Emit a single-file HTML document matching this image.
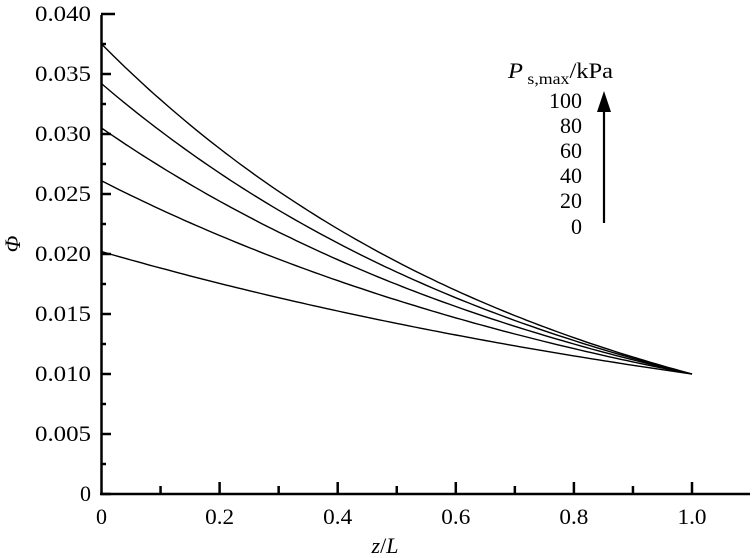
<!DOCTYPE html>
<html><head><meta charset="utf-8"><style>
html,body{margin:0;padding:0;background:#fff;}
svg{display:block;font-family:"Liberation Serif","Times New Roman",serif;}
</style></head><body>
<svg width="755" height="558" viewBox="0 0 755 558">
<g stroke="#000" stroke-width="2.5" fill="none">
<line x1="101.5" y1="15" x2="101.5" y2="495"/>
<line x1="100" y1="494" x2="750" y2="494"/>
</g>
<g id="yt" stroke="#000" stroke-width="2.5"></g>
<g id="xt" stroke="#000" stroke-width="2.5"></g>
<g id="curves" stroke="#000" stroke-width="1.4" fill="none"></g>
<g font-size="22" text-anchor="end" id="yl"></g>
<g font-size="22" text-anchor="middle" id="xl"></g>
<text x="20" y="244" font-size="22" font-style="italic" text-anchor="middle" transform="rotate(-90 20 244)">Φ</text>
<text x="385" y="553" font-size="22" text-anchor="middle"><tspan font-style="italic">z</tspan>/<tspan font-style="italic">L</tspan></text>
<text x="508" y="78" font-size="22" textLength="105" lengthAdjust="spacingAndGlyphs"><tspan font-style="italic">P</tspan><tspan font-size="16" dy="6"> s,max</tspan><tspan dy="-6">/kPa</tspan></text>
<g font-size="22" text-anchor="end">
<text x="582" y="108" textLength="33" lengthAdjust="spacingAndGlyphs">100</text><text x="582" y="133" textLength="22" lengthAdjust="spacingAndGlyphs">80</text><text x="582" y="158" textLength="22" lengthAdjust="spacingAndGlyphs">60</text><text x="582" y="183" textLength="22" lengthAdjust="spacingAndGlyphs">40</text><text x="582" y="208" textLength="22" lengthAdjust="spacingAndGlyphs">20</text><text x="582" y="234" textLength="11" lengthAdjust="spacingAndGlyphs">0</text>
</g>
<line x1="604" y1="223" x2="604" y2="108" stroke="#000" stroke-width="2.2"/>
<polygon points="604,91 597,112 611,112" fill="#000"/>
</svg>
<script>
var ns="http://www.w3.org/2000/svg";
function el(p,t,a,txt){var e=document.createElementNS(ns,t);for(var k in a)e.setAttribute(k,a[k]);if(txt)e.textContent=txt;document.getElementById(p).appendChild(e);}
var X=function(z){return 101.5+z*590.5;},Y=function(v){return 494-v*12000;};
for(var i=0;i<=16;i++){var v=i*0.0025,y=Y(v);var len=(i%2==0)?10:5;if(i==16)len=14;el("yt","line",{x1:101,y1:y,x2:101+len,y2:y});
if(i%2==0){var s=(i==0)?"0":v.toFixed(3);var a={x:91,y:y+7};if(i>0){a.textLength=56;a.lengthAdjust="spacingAndGlyphs";}el("yl","text",a,s);}}
for(var i=1;i<=10;i++){var x=X(i/10);el("xt","line",{x1:x,y1:494,x2:x,y2:(i%2==0)?482:486});}
var xl=["0","0.2","0.4","0.6","0.8","1.0"];for(var i=0;i<6;i++){var a={x:X(i*0.2),y:524};if(i>0){a.textLength=29;a.lengthAdjust="spacingAndGlyphs";}el("xl","text",a,xl[i]);}
[0.0375,0.0342,0.0305,0.0261,0.0202].forEach(function(a){var d="";for(var j=0;j<=100;j++){var z=j/100,v=a*Math.pow(0.01/a,z);d+=(j?"L":"M")+X(z).toFixed(1)+","+Y(v).toFixed(1);}el("curves","path",{d:d});});
</script>
</body></html>
